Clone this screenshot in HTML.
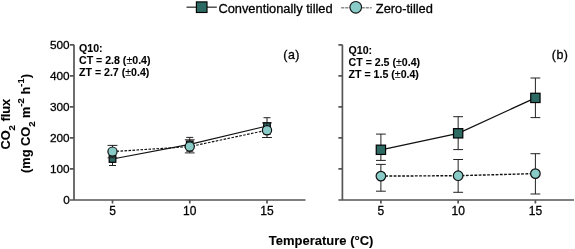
<!DOCTYPE html>
<html><head><meta charset="utf-8">
<style>
html,body{margin:0;padding:0;background:#fff;}
body{width:575px;height:249px;overflow:hidden;}
svg{display:block;will-change:transform;}
text{font-family:"Liberation Sans",sans-serif;fill:#000;stroke:#000;stroke-width:0.3px;}
.b,.b text{font-weight:bold;stroke-width:0.1px;}
</style></head><body>
<svg width="575" height="249" viewBox="0 0 575 249">
<line x1="186.5" y1="7.2" x2="216.8" y2="7.2" stroke="#444" stroke-width="1.4"/>
<rect x="196.4" y="1.9" width="10.6" height="10.6" fill="#2e6a64" stroke="#000" stroke-width="1.15"/>
<text x="218.4" y="13" font-size="12.85">Conventionally tilled</text>
<line x1="341.1" y1="7.7" x2="371.7" y2="7.7" stroke="#8c8c8c" stroke-width="1.5" stroke-dasharray="3.2,0.9"/>
<circle cx="355.75" cy="7.3" r="5.8" fill="#89cbc7" stroke="#111" stroke-width="1.05"/>
<text x="375.8" y="13" font-size="12.85">Zero-tilled</text>

<text class="b" font-size="12.8" transform="translate(10.3,149.6) rotate(-90)">CO<tspan font-size="9.5" dy="4.6">2</tspan><tspan dy="-4.6"> flux</tspan></text>
<text class="b" font-size="12.8" transform="translate(29.9,173) rotate(-90)">(mg CO<tspan font-size="9.5" dy="4.6">2</tspan><tspan dy="-4.6"> m</tspan><tspan font-size="9.5" dy="-5.6">-2</tspan><tspan dy="5.6"> h</tspan><tspan font-size="9.5" dy="-5.6">-1</tspan><tspan dy="5.6">)</tspan></text>

<path d="M74,44.8 V200 H305.5 M70,44.8 H74 M70,75.8 H74 M70,106.8 H74 M70,137.8 H74 M70,168.8 H74 M70,200 H74 M112.50,200 V203.5 M189.75,200 V203.5 M267.00,200 V203.5" stroke="#555" stroke-width="1.7" fill="none"/>
<g font-size="12" text-anchor="middle"><text x="112.50" y="215.3">5</text><text x="189.75" y="215.3">10</text><text x="267.00" y="215.3">15</text></g>
<g font-size="11.8" text-anchor="end"><text x="69.7" y="48.9">500</text><text x="69.7" y="79.9">400</text><text x="69.7" y="110.9">300</text><text x="69.7" y="141.9">200</text><text x="69.7" y="172.9">100</text><text x="69.7" y="204.1">0</text></g>

<path d="M342.4,44.8 V200 H574 M338.4,44.8 H342.4 M338.4,75.8 H342.4 M338.4,106.8 H342.4 M338.4,137.8 H342.4 M338.4,168.8 H342.4 M338.4,200 H342.4 M380.90,200 V203.5 M458.15,200 V203.5 M535.40,200 V203.5" stroke="#555" stroke-width="1.7" fill="none"/>
<g font-size="12" text-anchor="middle"><text x="380.90" y="215.3">5</text><text x="458.15" y="215.3">10</text><text x="535.40" y="215.3">15</text></g>

<g class="b" font-size="10.6">
<text x="79" y="51.5">Q10:</text>
<text x="79" y="63.5">CT = 2.8 (<tspan font-weight="normal">±</tspan>0.4)</text>
<text x="79" y="75.5">ZT = 2.7 (<tspan font-weight="normal">±</tspan>0.4)</text>
</g>
<text x="283.3" y="59" font-size="12.4" letter-spacing="0.5">(a)</text>
<g class="b" font-size="10.6">
<text x="348.6" y="54">Q10:</text>
<text x="348.6" y="66">CT = 2.5 (<tspan font-weight="normal">±</tspan>0.4)</text>
<text x="348.6" y="78">ZT = 1.5 (<tspan font-weight="normal">±</tspan>0.4)</text>
</g>
<text x="551.8" y="59" font-size="12.4" letter-spacing="0.5">(b)</text>
<text class="b" x="321.1" y="244.6" font-size="13" text-anchor="middle">Temperature (°C)</text>

<path d="M112.5,152.5 V165.5 M109.0,152.5 H116.0 M109.0,165.5 H116.0 M189.75,137.4 V151.2 M186.25,137.4 H193.25 M186.25,151.2 H193.25 M267.0,117.7 V134.3 M263.5,117.7 H270.5 M263.5,134.3 H270.5" stroke="#222" stroke-width="1.0" fill="none"/>
<polyline points="112.5,159.0 189.75,144.3 267.0,126.0" fill="none" stroke="#111" stroke-width="1.25"/>
<rect x="109.20" y="155.70" width="6.6" height="6.6" fill="#2e6a64" stroke="#000" stroke-width="1.2"/>
<rect x="186.45" y="141.00" width="6.6" height="6.6" fill="#2e6a64" stroke="#000" stroke-width="1.2"/>
<rect x="263.70" y="122.70" width="6.6" height="6.6" fill="#2e6a64" stroke="#000" stroke-width="1.2"/>
<path d="M112.5,145.4 V157.8 M107.6,145.4 H117.4 M107.6,157.8 H117.4 M189.75,139.8 V152.9 M184.85,139.8 H194.65 M184.85,152.9 H194.65 M267.0,122.9 V137.5 M262.1,122.9 H271.9 M262.1,137.5 H271.9" stroke="#222" stroke-width="1.0" fill="none"/>
<polyline points="112.5,151.6 189.75,146.6 267.0,130.2" fill="none" stroke="#111" stroke-width="1.15" stroke-dasharray="2.6,1.4"/>
<circle cx="112.5" cy="151.6" r="4.6" fill="#89cbc7" stroke="#111" stroke-width="1.2"/>
<circle cx="189.75" cy="146.6" r="4.6" fill="#89cbc7" stroke="#111" stroke-width="1.2"/>
<circle cx="267.0" cy="130.2" r="4.6" fill="#89cbc7" stroke="#111" stroke-width="1.2"/>
<path d="M380.9,134.1 V160.4 M376.0,134.1 H385.79999999999995 M376.0,160.4 H385.79999999999995 M458.15,116.7 V149.6 M453.25,116.7 H463.04999999999995 M453.25,149.6 H463.04999999999995 M535.4,78.0 V117.6 M530.5,78.0 H540.3 M530.5,117.6 H540.3" stroke="#222" stroke-width="1.0" fill="none"/>
<polyline points="380.9,149.8 458.15,133.3 535.4,97.9" fill="none" stroke="#111" stroke-width="1.25"/>
<rect x="376.25" y="145.15" width="9.3" height="9.3" fill="#2e6a64" stroke="#000" stroke-width="1.2"/>
<rect x="453.50" y="128.65" width="9.3" height="9.3" fill="#2e6a64" stroke="#000" stroke-width="1.2"/>
<rect x="530.75" y="93.25" width="9.3" height="9.3" fill="#2e6a64" stroke="#000" stroke-width="1.2"/>
<path d="M380.9,164.4 V191.2 M376.0,164.4 H385.79999999999995 M376.0,191.2 H385.79999999999995 M458.15,159.5 V192.3 M453.25,159.5 H463.04999999999995 M453.25,192.3 H463.04999999999995 M535.4,153.7 V194.0 M530.5,153.7 H540.3 M530.5,194.0 H540.3" stroke="#222" stroke-width="1.0" fill="none"/>
<polyline points="380.9,176.1 458.15,175.7 535.4,173.6" fill="none" stroke="#111" stroke-width="1.4" stroke-dasharray="2.8,1.45"/>
<circle cx="380.9" cy="176.1" r="4.8" fill="#89cbc7" stroke="#111" stroke-width="1.2"/>
<circle cx="458.15" cy="175.7" r="4.8" fill="#89cbc7" stroke="#111" stroke-width="1.2"/>
<circle cx="535.4" cy="173.6" r="4.8" fill="#89cbc7" stroke="#111" stroke-width="1.2"/>
</svg>
</body></html>
